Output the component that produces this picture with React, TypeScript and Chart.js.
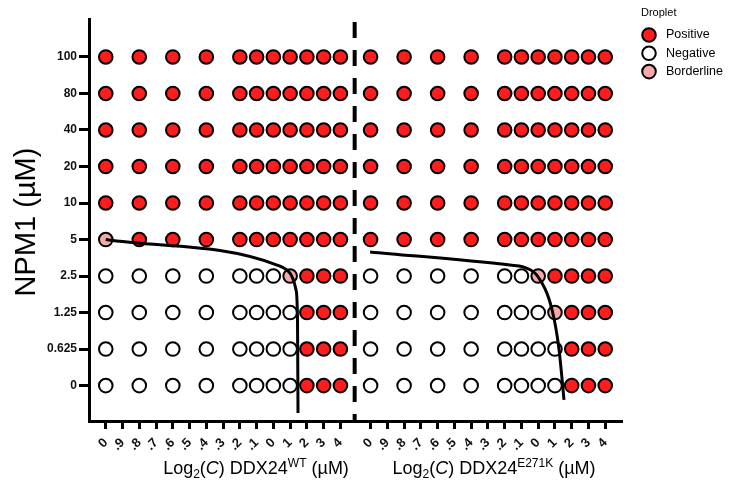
import React, { useEffect, useRef } from 'react';
import { Chart, registerables } from 'chart.js';
Chart.register(...registerables);

// NPM1 concentrations (rows, bottom to top)
const npm1Labels = ['0', '0.625', '1.25', '2.5', '5', '10', '20', '40', '80', '100'];
// log2 DDX24 concentrations of the tested columns
const dotLog2 = [-10, -8, -6, -4, -2, -1, 0, 1, 2, 3, 4];
// axis ticks (log2 values) and their labels as printed
const tickLog2 = [-10, -9, -8, -7, -6, -5, -4, -3, -2, -1, 0, 1, 2, 3, 4];
const tickLabels = ['0', '.9', '.8', '.7', '.6', '.5', '.4', '.3', '.2', '.1', '0', '1', '2', '3', '4'];
// P = positive, N = negative, B = borderline ; one string per NPM1 row
const wtStatus = [
  'NNNNNNNNPPP',
  'NNNNNNNNPPP',
  'NNNNNNNNPPP',
  'NNNNNNNBPPP',
  'BPPPPPPPPPP',
  'PPPPPPPPPPP',
  'PPPPPPPPPPP',
  'PPPPPPPPPPP',
  'PPPPPPPPPPP',
  'PPPPPPPPPPP',
];
const e271kStatus = [
  'NNNNNNNNPPP',
  'NNNNNNNNPPP',
  'NNNNNNNBPPP',
  'NNNNNNBPPPP',
  'PPPPPPPPPPP',
  'PPPPPPPPPPP',
  'PPPPPPPPPPP',
  'PPPPPPPPPPP',
  'PPPPPPPPPPP',
  'PPPPPPPPPPP',
];
// phase boundary curves (x in axis units, y in row units)
const wtFitX = [0, 10.22, 10.99, 11.35, 11.44, 11.47];
const wtFitY = [4.0, 3.3, 3.08, 2.62, 1.8, -0.75];
const e271kFitX = [15.77, 24.12, 24.9, 25.79, 26.63, 27.04, 27.34];
const e271kFitY = [3.66, 3.3, 3.25, 2.98, 2.07, 1.0, -0.39];

const RIGHT_OFFSET = 15.8; // axis position of the second panel's first tick
const DIVIDER_X = 14.85;
const Y_MIN = -0.97;
const Y_MAX = 10.04;
const X_MIN = -1.0;
const X_MAX = 30.8;

const FONT = "'Liberation Sans', Arial, sans-serif";
const RED = '#ff1c1c';
const PINK = '#f7a8a8';

const tickPositions = [
  ...tickLog2.map((v) => v + 10),
  ...tickLog2.map((v) => v + 10 + RIGHT_OFFSET),
];
const allTickLabels = [...tickLabels, ...tickLabels];

function buildPoints(code: string) {
  const pts: { x: number; y: number }[] = [];
  const add = (status: string[], offset: number) => {
    status.forEach((row, r) => {
      row.split('').forEach((c, i) => {
        if (c === code) pts.push({ x: dotLog2[i] + 10 + offset, y: r });
      });
    });
  };
  add(wtStatus, 0);
  add(e271kStatus, RIGHT_OFFSET);
  return pts;
}

type Seg = { t: string; size: number; dy?: number; italic?: boolean };

function drawRich(ctx: CanvasRenderingContext2D, segs: Seg[], cx: number, baseline: number) {
  const fontOf = (s: Seg) => `${s.italic ? 'italic ' : ''}${s.size}px ${FONT}`;
  let total = 0;
  segs.forEach((s) => {
    ctx.font = fontOf(s);
    total += ctx.measureText(s.t).width;
  });
  let x = cx - total / 2;
  ctx.textAlign = 'left';
  ctx.textBaseline = 'alphabetic';
  segs.forEach((s) => {
    ctx.font = fontOf(s);
    ctx.fillText(s.t, x, baseline + (s.dy || 0));
    x += ctx.measureText(s.t).width;
  });
}

const decorPlugin = {
  id: 'decor',
  afterDraw(chart: any) {
    const ctx: CanvasRenderingContext2D = chart.ctx;
    ctx.save();
    ctx.fillStyle = '#000';
    // y title
    ctx.save();
    ctx.translate(27, 222);
    ctx.rotate(-Math.PI / 2);
    ctx.font = `29px ${FONT}`;
    ctx.textAlign = 'center';
    ctx.textBaseline = 'middle';
    ctx.fillText('NPM1 (µM)', 0, 0);
    ctx.restore();
    // x titles
    const mk = (sup: string): Seg[] => [
      { t: 'Log', size: 18 },
      { t: '2', size: 12, dy: 4 },
      { t: '(', size: 18 },
      { t: 'C', size: 18, italic: true },
      { t: ') DDX24', size: 18 },
      { t: sup, size: 12, dy: -7 },
      { t: ' (µM)', size: 18 },
    ];
    drawRich(ctx, mk('WT'), 256, 474);
    drawRich(ctx, mk('E271K'), 494, 474);
    // legend
    ctx.font = `11px ${FONT}`;
    ctx.textAlign = 'left';
    ctx.textBaseline = 'middle';
    ctx.fillText('Droplet', 641, 13);
    const items = [
      ['Positive', RED],
      ['Negative', '#ffffff'],
      ['Borderline', PINK],
    ];
    items.forEach(([label, col], i) => {
      const y = 35 + i * 18.3;
      ctx.beginPath();
      ctx.arc(649, y, 6.8, 0, Math.PI * 2);
      ctx.fillStyle = col;
      ctx.fill();
      ctx.lineWidth = 2;
      ctx.strokeStyle = '#000';
      ctx.stroke();
      ctx.fillStyle = '#000';
      ctx.font = `12.5px ${FONT}`;
      ctx.fillText(label, 666, y);
    });
    ctx.restore();
  },
};

export default function App() {
  const ref = useRef<HTMLCanvasElement | null>(null);
  useEffect(() => {
    document.body.style.margin = '0';
    if (!ref.current) return;
    const dot = (label: string, pts: any[], fill: string) => ({
      label,
      data: pts,
      backgroundColor: fill,
      borderColor: '#000',
      borderWidth: 2,
      pointRadius: 6.8,
      showLine: false,
      order: 2,
      clip: false as any,
    });
    const curve = (xs: number[], ys: number[]) => ({
      label: 'fit',
      data: xs.map((x, i) => ({ x, y: ys[i] })),
      showLine: true,
      borderColor: '#000',
      borderWidth: 3,
      pointRadius: 0,
      cubicInterpolationMode: 'monotone' as const,
      order: 0,
    });
    const chart = new Chart(ref.current, {
      type: 'scatter',
      data: {
        datasets: [
          curve(wtFitX, wtFitY),
          curve(e271kFitX, e271kFitY),
          {
            label: 'divider',
            data: [
              { x: DIVIDER_X, y: 9.96 },
              { x: DIVIDER_X, y: Y_MIN },
            ],
            showLine: true,
            borderColor: '#000',
            borderWidth: 4,
            borderDash: [16, 12],
            pointRadius: 0,
            order: 1,
          } as any,
          dot('Positive', buildPoints('P'), RED),
          dot('Negative', buildPoints('N'), '#ffffff'),
          dot('Borderline', buildPoints('B'), PINK),
        ] as any,
      },
      options: {
        animation: false,
        responsive: false,
        devicePixelRatio: 1,
        events: [],
        layout: { padding: { top: 19, right: 111, left: 0, bottom: 0 } },
        plugins: { legend: { display: false }, tooltip: { enabled: false }, title: { display: false } },
        scales: {
          x: {
            type: 'linear',
            min: X_MIN,
            max: X_MAX,
            afterBuildTicks: (s: any) => {
              s.ticks = tickPositions.map((v) => ({ value: v }));
            },
            afterFit: (s: any) => {
              s.height = 75;
            },
            ticks: {
              autoSkip: false,
              minRotation: 45,
              maxRotation: 45,
              padding: 6,
              color: '#111',
              font: { family: FONT, size: 13, weight: 'bold' },
              callback: (_v: any, i: number) => allTickLabels[i],
            },
            grid: {
              display: true,
              drawOnChartArea: false,
              drawTicks: true,
              tickLength: 8,
              tickWidth: 3,
              tickColor: '#000',
            },
            border: { display: true, width: 3, color: '#000' },
          },
          y: {
            type: 'linear',
            min: Y_MIN,
            max: Y_MAX,
            afterBuildTicks: (s: any) => {
              s.ticks = npm1Labels.map((_, i) => ({ value: i }));
            },
            afterFit: (s: any) => {
              s.width = 89;
            },
            ticks: {
              autoSkip: false,
              padding: 2,
              color: '#111',
              font: { family: FONT, size: 12, weight: 'bold' },
              callback: (_v: any, i: number) => npm1Labels[i],
            },
            grid: {
              display: true,
              drawOnChartArea: false,
              drawTicks: true,
              tickLength: 10,
              tickWidth: 3,
              tickColor: '#000',
            },
            border: { display: true, width: 3, color: '#000' },
          },
        },
      } as any,
      plugins: [decorPlugin],
    });
    return () => chart.destroy();
  }, []);
  return (
    <div style={{ width: 733, height: 496 }}>
      <canvas ref={ref} width={733} height={496} style={{ display: 'block' }} />
    </div>
  );
}
